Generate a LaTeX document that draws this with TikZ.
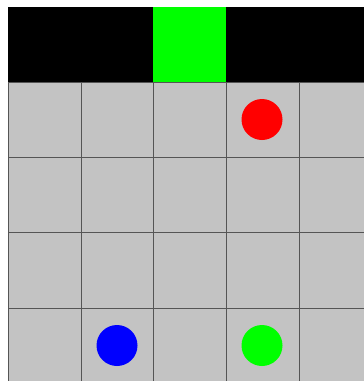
\documentclass[tikz,border=0pt]{standalone}
\definecolor{floorgray}{RGB}{195,195,195}
\definecolor{gridline}{RGB}{85,85,85}
\definecolor{goalgreen}{RGB}{0,255,0}
\tikzset{
  token/.style={circle, inner sep=0pt, minimum size=41pt},
  cellline/.style={draw=gridline, line width=1pt}
}
\begin{document}
\begin{tikzpicture}[x=1pt,y=-1pt]
\useasboundingbox (0,0) rectangle (364,381);
\clip (0,0) rectangle (364,381);
\fill[white] (0,0) rectangle (364,381);
\fill[floorgray] (8,82) rectangle (380,390);
\fill[black] (8,7) rectangle (380,82);
\fill[goalgreen] (153,7) rectangle (226,82);
\foreach \x in {8,81,153,226,299}
  \draw[cellline] (\x,82) -- (\x,390);
\foreach \y in {82,157,232,308}
  \draw[cellline] (8,\y) -- (380,\y);
\node[token, fill=red] (agent) at (262,119.5) {};
\node[token, fill=blue] (bluedot) at (117,345.5) {};
\node[token, fill=goalgreen] (greendot) at (262,345.5) {};
\end{tikzpicture}
\end{document}
